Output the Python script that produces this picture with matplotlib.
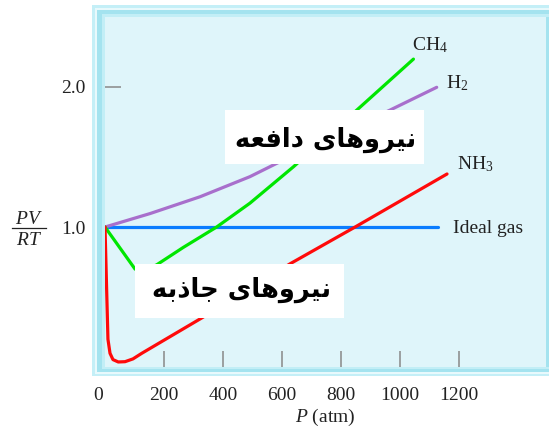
import matplotlib
matplotlib.use("Agg")
import matplotlib.pyplot as plt
from matplotlib.patches import Rectangle
from matplotlib.lines import Line2D
from matplotlib.transforms import ScaledTranslation

plt.rcParams['mathtext.fontset'] = 'custom'
plt.rcParams['mathtext.rm'] = 'Liberation Serif'
plt.rcParams['mathtext.it'] = 'Liberation Serif:italic'

# ---------------- data ----------------
ideal_p = [0, 1131]
ideal_z = [1.0, 1.0]

h2_p = [0, 153, 323, 492, 583, 968, 1126]
h2_z = [1.0, 1.096, 1.216, 1.359, 1.454, 1.834, 1.996]

ch4_p = [0, 102, 130, 175, 266, 379, 492, 640, 855, 1047]
ch4_z = [1.0, 0.70, 0.69, 0.73, 0.855, 1.0, 1.17, 1.43, 1.834, 2.197]

nh3_p = [0, 10, 17, 27, 45, 68, 95, 125, 327, 630, 849, 1161]
nh3_z = [1.0, 0.2, 0.10, 0.055, 0.038, 0.04, 0.06, 0.10, 0.35, 0.74, 1.0, 1.378]

x_ticks = [0, 200, 400, 600, 800, 1000, 1200]
x_labels = ['0', '200', '400', '600', '800', '1000', '1200']
y_ticks = [1.0, 2.0]
y_labels = ['1.0', '2.0']

txt_repulsive = "نیروهای دافعه"
txt_attractive = "نیروهای جاذبه"

# ------------- minimal Persian shaping -------------
FORMS = {  # isolated, final, initial, medial
    'ا': ('\uFE8D', '\uFE8E', None, None),
    'ب': ('\uFE8F', '\uFE90', '\uFE91', '\uFE92'),
    'ج': ('\uFE9D', '\uFE9E', '\uFE9F', '\uFEA0'),
    'د': ('\uFEA9', '\uFEAA', None, None),
    'ذ': ('\uFEAB', '\uFEAC', None, None),
    'ر': ('\uFEAD', '\uFEAE', None, None),
    'ع': ('\uFEC9', '\uFECA', '\uFECB', '\uFECC'),
    'ف': ('\uFED1', '\uFED2', '\uFED3', '\uFED4'),
    'ن': ('\uFEE5', '\uFEE6', '\uFEE7', '\uFEE8'),
    'ه': ('\uFEE9', '\uFEEA', '\uFEEB', '\uFEEC'),
    'و': ('\uFEED', '\uFEEE', None, None),
    'ی': ('\uFBFC', '\uFBFD', '\uFBFE', '\uFBFF'),
}


def shape(s):
    out = []
    for i, c in enumerate(s):
        if c not in FORMS:
            out.append(c)
            continue
        prev = s[i - 1] if i > 0 else None
        nxt = s[i + 1] if i + 1 < len(s) else None
        jp = prev in FORMS and FORMS[prev][2] is not None
        jn = FORMS[c][2] is not None and nxt in FORMS
        iso, fin, ini, med = FORMS[c]
        if jp and jn:
            out.append(med)
        elif jp:
            out.append(fin)
        elif jn:
            out.append(ini)
        else:
            out.append(iso)
    return ''.join(out)[::-1]


# ---------------- figure ----------------
W, H = 549, 430
fig = plt.figure(figsize=(W / 100, H / 100), dpi=100)
fig.patch.set_facecolor('white')


def frect(x0, y0, x1, y1, color, z):
    fig.add_artist(Rectangle((x0 / W, 1 - y1 / H), (x1 - x0) / W, (y1 - y0) / H,
                             transform=fig.transFigure, facecolor=color,
                             edgecolor='none', zorder=z))


# outer light-blue frame bands
frect(92, 5, 560, 376, '#c4eff7', 0)
frect(94.5, 7.5, 560, 373.5, '#e8f9fc', 0.1)
frect(96.5, 9.5, 560, 372, '#a4e3ef', 0.2)
frect(101.5, 13.5, 560, 369, '#c2eef6', 0.3)
frect(546, 17, 560, 367, '#a4e3ef', 0.4)

L, R, T, B = 105, 546, 17.3, 367.3
ax = fig.add_axes([L / W, 1 - B / H, (R - L) / W, (B - T) / H])
ax.set_zorder(1)
ax.set_facecolor('#dff5fa')
ax.set_xlim(0, 1497)
ax.set_ylim(0, 2.495)
for s in ax.spines.values():
    s.set_visible(False)

lw = 2.3
ax.plot(ideal_p, ideal_z, color='#0a7cff', lw=lw, solid_capstyle='round', zorder=3)
ax.plot(h2_p, h2_z, color='#a86fcc', lw=lw, solid_capstyle='round', solid_joinstyle='round', zorder=3)
ax.plot(ch4_p, ch4_z, color='#00e600', lw=lw, solid_capstyle='round', solid_joinstyle='round', zorder=3)
ax.plot(nh3_p, nh3_z, color='#ff0a0a', lw=lw, solid_capstyle='round', solid_joinstyle='round', zorder=3)

serif = 'Liberation Serif'
fs = 14
ax.text(1041, 2.262, r'$\mathrm{CH}_4$', fontsize=fs, color='#222222', va='baseline', ha='left')
ax.text(1158, 1.99, r'$\mathrm{H}_2$', fontsize=fs, color='#222222', va='baseline', ha='left')
ax.text(1195, 1.413, r'$\mathrm{NH}_3$', fontsize=fs, color='#222222', va='baseline', ha='left')
ax.text(1182, 0.955, 'Ideal gas', fontsize=fs, family=serif, color='#222222', va='baseline', ha='left')

# white label boxes
ax.add_patch(Rectangle((407.5, 1.447), 674, 0.385, facecolor='white', edgecolor='none', zorder=4))
ax.add_patch(Rectangle((101, 0.349), 709.5, 0.385, facecolor='white', edgecolor='none', zorder=4))
ax.text(748, 1.62, shape(txt_repulsive), fontsize=18.5, fontweight='bold', family='DejaVu Sans',
        ha='center', va='center', zorder=5, color='black')
ax.text(465, 0.55, shape(txt_attractive), fontsize=18.5, fontweight='bold', family='DejaVu Sans',
        ha='center', va='center', zorder=5, color='black')

# ticks
ax.set_xticks(x_ticks)
ax.set_xticklabels(x_labels, family=serif, fontsize=fs, color='#222222')
ax.set_yticks(y_ticks)
ax.set_yticklabels(y_labels, family=serif, fontsize=fs, color='#222222')
ax.tick_params(axis='x', direction='in', length=11.5, width=1.1, color='#888888', pad=14)
ax.tick_params(axis='y', direction='in', length=11.5, width=1.1, color='#888888', pad=14)
ax.xaxis.get_major_ticks()[0].tick1line.set_visible(False)
ax.yaxis.get_major_ticks()[0].tick1line.set_visible(False)
lab0 = ax.get_xticklabels()[0]
lab0.set_transform(lab0.get_transform() + ScaledTranslation(-6.5 / 100, 0, fig.dpi_scale_trans))

ax.set_xlabel(r'$P$ (atm)', fontsize=fs, family=serif, color='#222222', labelpad=2)

# y-axis label as a fraction PV / RT
fig.text(29 / W, 1 - 218.5 / H, r'$PV$', fontsize=fs, ha='center', va='center', color='#222222')
fig.text(29 / W, 1 - 239.5 / H, r'$RT$', fontsize=fs, ha='center', va='center', color='#222222')
fig.add_artist(Line2D([12.3 / W, 46 / W], [1 - 228 / H, 1 - 228 / H], transform=fig.transFigure,
                      color='#222222', lw=0.9))

fig.savefig('out.png', dpi=100)
